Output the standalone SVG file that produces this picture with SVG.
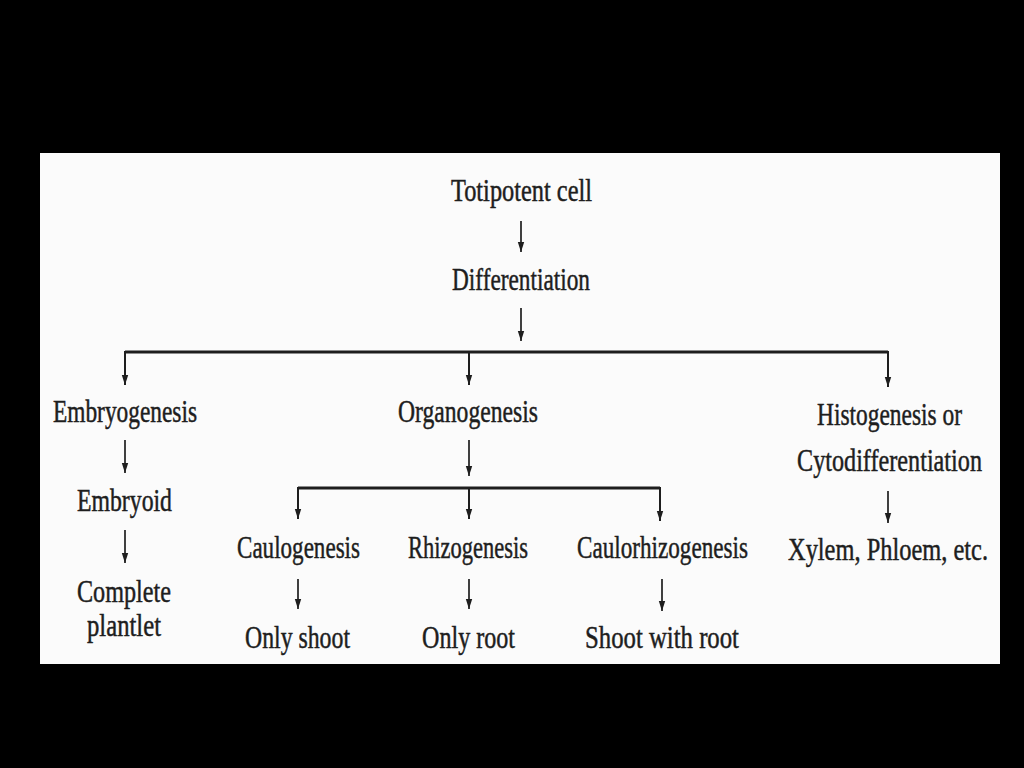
<svg xmlns="http://www.w3.org/2000/svg" width="1024" height="768" viewBox="0 0 1024 768">
<defs>
<style>
.t{font-family:"Liberation Serif","DejaVu Serif",serif;font-size:32px;fill:#1e1e1e;stroke:#1e1e1e;stroke-width:0.5px;}
.a{stroke:#1e1e1e;stroke-width:1.7;fill:none;marker-end:url(#ah);}
.d{stroke:#1e1e1e;stroke-width:2;fill:none;marker-end:url(#ah);}
.b{stroke:#1e1e1e;stroke-width:3;fill:none;}
</style>
<marker id="ah" markerUnits="userSpaceOnUse" markerWidth="10" markerHeight="8" viewBox="0 0 10 8" refX="10" refY="4" orient="auto">
<path d="M0,0.8 L10,4 L0,7.2 Z" fill="#1e1e1e"/>
</marker>
</defs>
<rect x="0" y="0" width="1024" height="768" fill="#000"/>
<rect x="40" y="153" width="960" height="511" fill="#fbfbfb"/>
<g id="connectors">
<line class="a" x1="521" y1="221" x2="521" y2="252"/>
<line class="a" x1="521" y1="308" x2="521" y2="341"/>
<path class="b" d="M125,352 H888"/>
<line class="d" x1="125" y1="351" x2="125" y2="385"/>
<line class="d" x1="469" y1="352" x2="469" y2="385"/>
<line class="d" x1="888" y1="351" x2="888" y2="387"/>
<line class="a" x1="125" y1="440" x2="125" y2="473"/>
<line class="a" x1="125" y1="530" x2="125" y2="563"/>
<line class="a" x1="469" y1="440" x2="469" y2="476"/>
<path class="b" d="M298,488 H660"/>
<line class="d" x1="298" y1="487" x2="298" y2="519"/>
<line class="d" x1="469" y1="488" x2="469" y2="519"/>
<line class="d" x1="660" y1="487" x2="660" y2="521"/>
<line class="a" x1="298" y1="579" x2="298" y2="609"/>
<line class="a" x1="469" y1="579" x2="469" y2="609"/>
<line class="a" x1="662" y1="579" x2="662" y2="611"/>
<line class="a" x1="888" y1="491" x2="888" y2="523"/>
</g>
<g id="totipotent"><text class="t" transform="translate(451,201) scale(0.8,1)" textLength="176.25" lengthAdjust="spacingAndGlyphs">Totipotent cell</text></g>
<g id="differentiation"><text class="t" transform="translate(452,290) scale(0.8,1)" textLength="172.5" lengthAdjust="spacingAndGlyphs">Differentiation</text></g>
<g id="embryogenesis"><text class="t" transform="translate(53,422) scale(0.8,1)" textLength="180" lengthAdjust="spacingAndGlyphs">Embryogenesis</text></g>
<g id="organogenesis"><text class="t" transform="translate(398,422) scale(0.8,1)" textLength="175" lengthAdjust="spacingAndGlyphs">Organogenesis</text></g>
<g id="histogenesis">
<text class="t" transform="translate(817,425) scale(0.8,1)" textLength="181.25" lengthAdjust="spacingAndGlyphs">Histogenesis or</text>
<text class="t" transform="translate(797,471) scale(0.8,1)" textLength="231.25" lengthAdjust="spacingAndGlyphs">Cytodifferentiation</text>
</g>
<g id="embryoid"><text class="t" transform="translate(77,511) scale(0.8,1)" textLength="118.75" lengthAdjust="spacingAndGlyphs">Embryoid</text></g>
<g id="plantlet">
<text class="t" transform="translate(77,602) scale(0.8,1)" textLength="117.5" lengthAdjust="spacingAndGlyphs">Complete</text>
<text class="t" transform="translate(87,636) scale(0.8,1)" textLength="92.5" lengthAdjust="spacingAndGlyphs">plantlet</text>
</g>
<g id="caulogenesis"><text class="t" transform="translate(237,558) scale(0.8,1)" textLength="153.75" lengthAdjust="spacingAndGlyphs">Caulogenesis</text></g>
<g id="rhizogenesis"><text class="t" transform="translate(408,558) scale(0.8,1)" textLength="150" lengthAdjust="spacingAndGlyphs">Rhizogenesis</text></g>
<g id="caulorhizogenesis"><text class="t" transform="translate(577,558) scale(0.8,1)" textLength="213.75" lengthAdjust="spacingAndGlyphs">Caulorhizogenesis</text></g>
<g id="xylem"><text class="t" transform="translate(788,560) scale(0.8,1)" textLength="250" lengthAdjust="spacingAndGlyphs">Xylem, Phloem, etc.</text></g>
<g id="onlyshoot"><text class="t" transform="translate(245,648) scale(0.8,1)" textLength="131.25" lengthAdjust="spacingAndGlyphs">Only shoot</text></g>
<g id="onlyroot"><text class="t" transform="translate(422,648) scale(0.8,1)" textLength="116.25" lengthAdjust="spacingAndGlyphs">Only root</text></g>
<g id="shootwithroot"><text class="t" transform="translate(585,648) scale(0.8,1)" textLength="192.5" lengthAdjust="spacingAndGlyphs">Shoot with root</text></g>
</svg>
